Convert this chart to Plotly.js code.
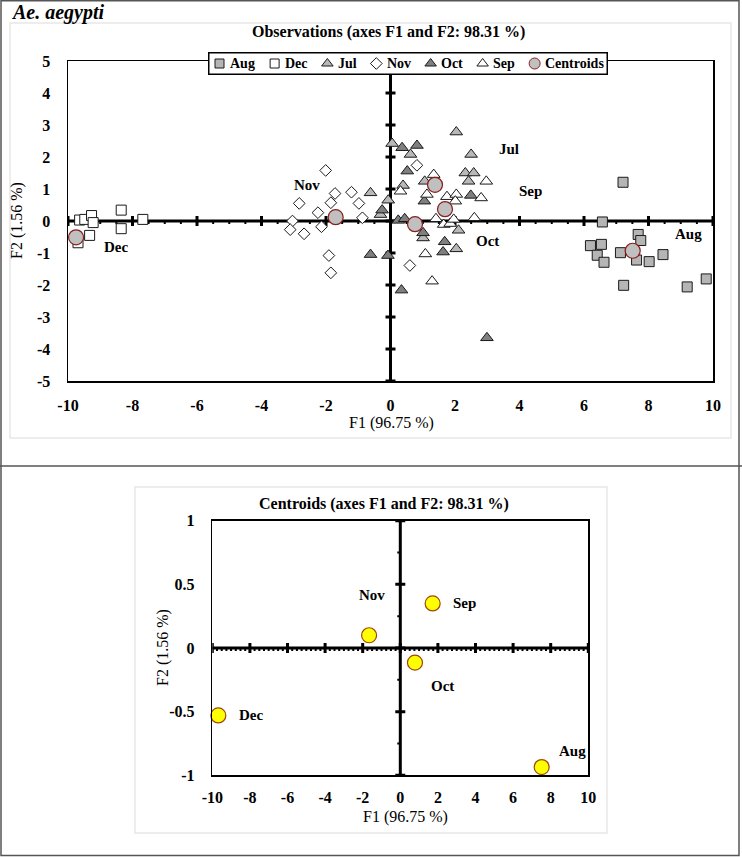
<!DOCTYPE html>
<html>
<head>
<meta charset="utf-8">
<script src="https://cdn.plot.ly/plotly-3.0.1.min.js"></script>
<style>html,body{margin:0;padding:0;background:#fff;}#chart{width:742px;height:857px;}</style>
</head>
<body>
<div id="chart"></div>
<script>
// ---------- Observations (F1, F2) ----------
const augX = [7.21, 6.57, 7.68, 7.76, 6.20, 6.54, 6.41, 6.62, 7.13, 7.63, 8.02, 8.45, 7.23, 9.20, 9.79];
const augY = [1.21, -0.03, -0.42, -0.61, -0.77, -0.73, -1.07, -1.29, -0.99, -1.22, -1.27, -1.05, -2.01, -2.06, -1.81];
const decX = [-9.64, -9.48, -9.27, -9.22, -8.35, -8.35, -7.68, -9.33, -9.69];
const decY = [0.03, 0.05, 0.17, -0.05, 0.34, -0.24, 0.05, -0.45, -0.68];
const julX = [0.05, 0.62, 1.06, 0.39, -0.07, -0.62, -0.31, 1.01, 2.04, 2.50, 2.32, 2.58, 2.42, 2.11, 2.04];
const julY = [2.42, 2.08, 1.24, 1.11, 0.65, 0.88, 0.20, -0.53, 2.78, 2.08, 1.50, 1.50, 1.24, -0.29, -0.87];
const novX = [-2.01, -2.83, -1.72, -1.21, -1.85, -0.98, -2.25, -0.87, -3.04, -3.11, -2.68, -2.14, -1.91, -1.85, 0.60, 0.82];
const novY = [1.58, 0.55, 0.86, 0.90, 0.57, 0.55, 0.26, 0.10, 0.00, -0.27, -0.40, -0.18, -1.08, -1.62, -1.39, 1.74];
const octX = [0.36, 0.82, 0.52, 1.05, -0.26, 0.24, 0.44, 1.01, -0.62, -0.08, 0.34, 2.49, 1.68, 1.63, 2.99];
const octY = [2.29, 2.36, 1.56, 0.62, 0.34, 0.02, 0.07, -0.37, -1.05, -1.08, -2.16, 0.80, -0.65, -0.97, -3.65];
const sepX = [1.34, 0.31, 1.13, 1.41, 1.08, 1.29, 2.97, 1.75, 2.04, 2.81, 2.01, 1.65, 1.85, 1.96, 2.60];
const sepY = [1.45, 0.93, 0.83, 0.07, -1.03, -1.88, 1.24, 0.76, 0.83, 0.72, 0.62, -0.11, -0.08, 0.05, 0.10];

// ---------- Centroids ----------
const centroidLabels = ['Aug', 'Dec', 'Jul', 'Nov', 'Oct', 'Sep'];
const centroidX = [7.51, -9.75, 1.38, -1.70, 0.76, 1.69];
const centroidY = [-0.93, -0.51, 1.13, 0.12, -0.10, 0.37];

const centroid2Labels = ['Dec', 'Nov', 'Sep', 'Oct', 'Aug'];
const centroid2X = [-9.68, -1.66, 1.72, 0.78, 7.52];
const centroid2Y = [-0.53, 0.10, 0.35, -0.115, -0.935];

// ---------- Tick labels ----------
const xTicks = [-10, -8, -6, -4, -2, 0, 2, 4, 6, 8, 10];
const yTicksTop = [-5, -4, -3, -2, -1, 0, 1, 2, 3, 4, 5];
const yTicksBottom = [-1, -0.5, 0, 0.5, 1];

// ---------- styling ----------
const FONT = 'Liberation Serif, DejaVu Serif, serif';
const W = 742, H = 857;
const px = v => v / W;          // page x -> paper
const py = v => 1 - v / H;      // page y -> paper

// label offsets (pixels) relative to each centroid
const topLabelShift = {Aug: [56, 17], Dec: [40, -10], Jul: [74, 36], Nov: [-29, 32], Oct: [72, -17], Sep: [85, 18]};
const botLabelShift = {Dec: [33, 0], Nov: [3, 40], Sep: [32, 0], Oct: [28, -23], Aug: [31, 16]};

// series styles
const seriesStyle = [
  {name: 'Aug', symbol: 'square', fill: '#b5b5b5', size: 10, line: '#1a1a1a'},
  {name: 'Dec', symbol: 'square', fill: '#ffffff', size: 10, line: '#1a1a1a'},
  {name: 'Jul', symbol: 'triangle-up', fill: '#b8b8b8', size: 11, line: '#1a1a1a'},
  {name: 'Nov', symbol: 'diamond', fill: '#ffffff', size: 9, line: '#1a1a1a'},
  {name: 'Oct', symbol: 'triangle-up', fill: '#7f7f7f', size: 11, line: '#1a1a1a'},
  {name: 'Sep', symbol: 'triangle-up', fill: '#ffffff', size: 11, line: '#1a1a1a'},
  {name: 'Centroids', symbol: 'circle', fill: '#c0c0c0', size: 15, line: '#8b1c1c'}
];
const seriesData = [[augX, augY], [decX, decY], [julX, julY], [novX, novY], [octX, octY], [sepX, sepY], [centroidX, centroidY]];

const traces = seriesStyle.map((s, i) => ({
  type: 'scatter', mode: 'markers', name: s.name, x: seriesData[i][0], y: seriesData[i][1],
  xaxis: 'x', yaxis: 'y', showlegend: false,
  marker: {symbol: s.symbol, size: s.size, color: s.fill, line: {color: s.line, width: s.name === 'Centroids' ? 1.2 : 1}},
  cliponaxis: false
}));
traces.push({
  type: 'scatter', mode: 'markers', name: 'Centroids', showlegend: false,
  x: centroid2X, y: centroid2Y, xaxis: 'x2', yaxis: 'y2', text: centroid2Labels,
  marker: {symbol: 'circle', size: 15, color: '#ffff00', line: {color: '#a0460a', width: 1.2}},
  cliponaxis: false
});

// ---------- zero-axis lines with tick marks ----------
const shapes = [];
function hAxis(xr, yr, min, max, major, minor, majLen, minLen) {
  shapes.push({type: 'line', xref: xr, yref: yr, x0: min, x1: max, y0: 0, y1: 0,
               line: {color: 'black', width: 3}, layer: 'below'});
  const n = Math.round((max - min) / minor);
  for (let i = 0; i <= n; i++) {
    const v = min + i * minor;
    const isMajor = Math.abs(v / major - Math.round(v / major)) < 1e-6;
    shapes.push({type: 'line', xref: xr, yref: yr, ysizemode: 'pixel', yanchor: 0,
                 x0: v, x1: v, y0: isMajor ? -majLen : -minLen, y1: isMajor ? majLen : 0,
                 line: {color: 'black', width: isMajor ? 3 : 2}, layer: 'below'});
  }
}
function vAxis(xr, yr, min, max, major, minor, majLen, minLen) {
  shapes.push({type: 'line', xref: xr, yref: yr, x0: 0, x1: 0, y0: min, y1: max,
               line: {color: 'black', width: 3}, layer: 'below'});
  const n = Math.round((max - min) / minor);
  for (let i = 0; i <= n; i++) {
    const v = min + i * minor;
    const isMajor = Math.abs(v / major - Math.round(v / major)) < 1e-6;
    shapes.push({type: 'line', xref: xr, yref: yr, xsizemode: 'pixel', xanchor: 0,
                 y0: v, y1: v, x0: isMajor ? -majLen : -minLen, x1: isMajor ? majLen : 0,
                 line: {color: 'black', width: isMajor ? 3 : 2}, layer: 'below'});
  }
}
hAxis('x', 'y', -10, 10, 2, 0.5, 5, 3);
vAxis('x', 'y', -5, 5, 1, 1, 5, 3);
hAxis('x2', 'y2', -10, 10, 2, 0.25, 5, 3);
vAxis('x2', 'y2', -1, 1, 0.5, 0.25, 5, 3);

// frames
shapes.push({type: 'rect', xref: 'paper', yref: 'paper', x0: px(10), x1: px(731), y0: py(438), y1: py(23),
             line: {color: '#e8e8e8', width: 1.5}, layer: 'below'});
shapes.push({type: 'rect', xref: 'paper', yref: 'paper', x0: px(135), x1: px(607), y0: py(833), y1: py(487),
             line: {color: '#e8e8e8', width: 1.5}, layer: 'below'});
shapes.push({type: 'rect', xref: 'paper', yref: 'paper', x0: px(1), x1: px(739), y0: py(855.5), y1: py(0.8),
             line: {color: '#555555', width: 1.5}});
shapes.push({type: 'line', xref: 'paper', yref: 'paper', x0: 0, x1: 1, y0: py(466), y1: py(466),
             line: {color: '#555555', width: 1.5}});

// ---------- annotations ----------
const ann = [];
ann.push({xref: 'paper', yref: 'paper', x: px(9), y: py(13), xanchor: 'left', yanchor: 'middle', showarrow: false,
          text: '<b><i>Ae. aegypti</i></b>', font: {family: FONT, size: 20, color: '#000'}});
ann.push({xref: 'paper', yref: 'paper', x: px(388), y: py(32), xanchor: 'center', yanchor: 'middle', showarrow: false,
          text: '<b>Observations (axes F1 and F2: 98.31 %)</b>', font: {family: FONT, size: 16, color: '#000'}});
ann.push({xref: 'paper', yref: 'paper', x: px(384), y: py(504), xanchor: 'center', yanchor: 'middle', showarrow: false,
          text: '<b>Centroids (axes F1 and F2: 98.31 %)</b>', font: {family: FONT, size: 16, color: '#000'}});
// axis titles
ann.push({xref: 'paper', yref: 'paper', x: px(391), y: py(423), xanchor: 'center', yanchor: 'middle', showarrow: false,
          text: 'F1 (96.75 %)', font: {family: FONT, size: 16, color: '#000'}});
ann.push({xref: 'paper', yref: 'paper', x: px(17), y: py(221), xanchor: 'center', yanchor: 'middle', showarrow: false,
          textangle: -90, text: 'F2 (1.56 %)', font: {family: FONT, size: 16, color: '#000'}});
ann.push({xref: 'paper', yref: 'paper', x: px(405), y: py(817), xanchor: 'center', yanchor: 'middle', showarrow: false,
          text: 'F1 (96.75 %)', font: {family: FONT, size: 16, color: '#000'}});
ann.push({xref: 'paper', yref: 'paper', x: px(163), y: py(648), xanchor: 'center', yanchor: 'middle', showarrow: false,
          textangle: -90, text: 'F2 (1.56 %)', font: {family: FONT, size: 16, color: '#000'}});
// centroid labels
centroidLabels.forEach((lab, i) => {
  const s = topLabelShift[lab];
  ann.push({xref: 'x', yref: 'y', x: centroidX[i], y: centroidY[i], xshift: s[0], yshift: s[1],
            showarrow: false, text: '<b>' + lab + '</b>', font: {family: FONT, size: 15, color: '#000'}});
});
centroid2Labels.forEach((lab, i) => {
  const s = botLabelShift[lab];
  ann.push({xref: 'x2', yref: 'y2', x: centroid2X[i], y: centroid2Y[i], xshift: s[0], yshift: s[1],
            showarrow: false, text: '<b>' + lab + '</b>', font: {family: FONT, size: 15, color: '#000'}});
});

// ---------- compact legend (own helper subplot, pixel units) ----------
const LEG_L = 208, LEG_R = 608, LEG_T = 52, LEG_B = 75;
const legW = LEG_R - LEG_L, legH = LEG_B - LEG_T;
const legFontSize = 14;
const cv = document.createElement('canvas').getContext('2d');
cv.font = 'bold ' + legFontSize + 'px "Liberation Serif"';
const textW = seriesStyle.map(s => cv.measureText(s.name).width);
const symW = 11, symGap = 3, pad = 6;
const content = textW.reduce((a, w) => a + symW + symGap + w, 0);
const spacing = (legW - 2 * pad - content) / (seriesStyle.length - 1);
let cursor = pad;
seriesStyle.forEach((s, i) => {
  const cx = cursor + symW / 2;
  traces.push({
    type: 'scatter', mode: 'markers', x: [cx], y: [legH / 2], xaxis: 'x3', yaxis: 'y3',
    showlegend: false, hoverinfo: 'skip', cliponaxis: false,
    marker: {symbol: s.symbol, size: s.name === 'Centroids' ? 11 : (s.symbol === 'triangle-up' ? 10 : 9),
             color: s.fill, line: {color: s.line, width: 1}}
  });
  ann.push({xref: 'x3', yref: 'y3', x: cursor + symW + symGap, y: legH / 2, xanchor: 'left', yanchor: 'middle',
            showarrow: false, text: '<b>' + s.name + '</b>', font: {family: FONT, size: legFontSize, color: '#000'}});
  cursor += symW + symGap + textW[i] + spacing;
});
shapes.push({type: 'rect', xref: 'x3', yref: 'y3', x0: 0.75, x1: legW - 0.75, y0: 0.75, y1: legH - 0.75,
             fillcolor: '#ffffff', line: {color: '#000', width: 1.5}, layer: 'below'});

const tickFont = {family: FONT, size: 16, color: '#000', weight: 'bold'};
function axisBase(extra) {
  return Object.assign({
    showgrid: false, zeroline: false, showline: true, mirror: true, linecolor: '#000', linewidth: 1.5,
    ticks: 'outside', tickcolor: 'rgba(0,0,0,0)', tickfont: tickFont, fixedrange: true
  }, extra);
}

const layout = {
  width: W, height: H,
  margin: {l: 0, r: 0, t: 0, b: 0, pad: 0},
  paper_bgcolor: '#fff', plot_bgcolor: 'rgba(0,0,0,0)',
  showlegend: false,
  font: {family: FONT, color: '#000'},
  xaxis: axisBase({domain: [px(68), px(713)], anchor: 'y', range: [-10, 10],
                   tickvals: xTicks, ticktext: xTicks.map(String), ticklen: 9}),
  yaxis: axisBase({domain: [py(381), py(61)], anchor: 'x', range: [-5, 5],
                   tickvals: yTicksTop, ticktext: yTicksTop.map(String), ticklen: 13}),
  xaxis2: axisBase({domain: [px(212.3), px(588.3)], anchor: 'y2', range: [-10, 10],
                    tickvals: xTicks, ticktext: xTicks.map(String), ticklen: 7}),
  yaxis2: axisBase({domain: [py(775.3), py(520.7)], anchor: 'x2', range: [-1, 1],
                    tickvals: yTicksBottom, ticktext: yTicksBottom.map(String), ticklen: 13}),
  xaxis3: {domain: [px(LEG_L), px(LEG_R)], anchor: 'y3', range: [0, legW], visible: false, fixedrange: true},
  yaxis3: {domain: [py(LEG_B), py(LEG_T)], anchor: 'x3', range: [0, legH], visible: false, fixedrange: true},
  shapes: shapes,
  annotations: ann
};

Plotly.newPlot('chart', traces, layout, {displayModeBar: false, staticPlot: true});
</script>
</body>
</html>
